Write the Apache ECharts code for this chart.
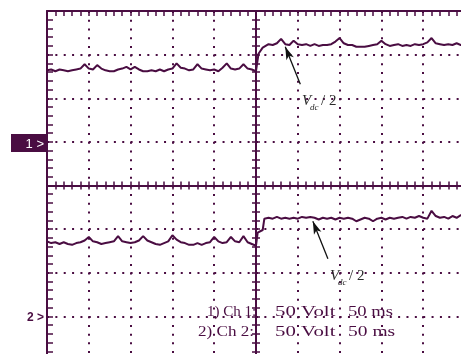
<!DOCTYPE html>
<html><head><meta charset="utf-8">
<script src="https://cdn.jsdelivr.net/npm/echarts@6/dist/echarts.min.js"></script>
<style>html,body{margin:0;padding:0;background:#fff}#c{width:461px;height:354px}</style>
</head><body><div id="c"></div>
<script>
// time in ms (50 ms/div), voltage in V on screen (50 V/div), screen centre = 0
const ch1Time = [-250,-245,-240,-235,-230,-225,-220,-215,-210,-205,-200,-195,-190,-185,-180,-175,-170,-165,-160,-155,-150,-145,-140,-135,-130,-125,-120,-115,-110,-105,-100,-95,-90,-85,-80,-75,-70,-65,-60,-55,-50,-45,-40,-35,-30,-25,-20,-15,-10,-5,0,3,8,10,15,20,25,30,35,40,45,50,55,60,65,70,75,80,85,90,95,100,105,110,115,120,125,130,135,140,145,150,155,160,165,170,175,180,185,190,195,200,205,210,215,220,225,230,235,240,245,250];
const ch1Volt = [132,133,131,133,132,131,132,133,134,139,134,133,138,134,132,131,131,133,134,136,133,136,133,131,131,132,131,133,131,133,134,140,135,134,132,133,139,134,133,132,133,131,135,140,134,133,134,139,134,133,131,151,158,159,162,161,163,168,162,161,166,162,161,162,160,162,160,161,161,162,165,169,163,161,161,159,159,159,160,161,162,166,162,160,161,162,160,161,160,162,161,162,164,169,163,162,161,162,161,163,161,162];
const ch2Time = [-250,-245,-240,-235,-230,-225,-220,-215,-210,-205,-200,-195,-190,-185,-180,-175,-170,-165,-160,-155,-150,-145,-140,-135,-130,-125,-120,-115,-110,-105,-100,-95,-90,-85,-80,-75,-70,-65,-60,-55,-50,-45,-40,-35,-30,-25,-20,-15,-10,-5,0,2,8,10,15,20,25,30,35,40,45,50,55,60,65,70,75,80,85,90,95,100,105,110,115,120,125,130,135,140,145,150,155,160,165,170,175,180,185,190,195,200,205,210,215,220,225,230,235,240,245,250];
const ch2Volt = [-64,-66,-65,-67,-65,-67,-68,-66,-65,-63,-59,-64,-65,-67,-66,-65,-64,-58,-64,-65,-66,-65,-63,-58,-63,-65,-67,-68,-66,-64,-57,-62,-65,-66,-68,-68,-66,-68,-66,-65,-59,-64,-66,-65,-59,-64,-65,-58,-65,-67,-69,-54,-51,-38,-37,-38,-36,-38,-37,-38,-37,-38,-36,-37,-36,-37,-39,-37,-38,-37,-39,-37,-38,-37,-38,-41,-39,-37,-38,-41,-38,-37,-39,-37,-38,-37,-36,-38,-36,-37,-35,-37,-38,-29,-35,-37,-36,-38,-35,-37,-34,-36];
// annotation arrows (tail -> head) in data units
const arrow1 = [[53, 116], [35, 159]];
const arrow2 = [[86, -84], [68, -41]];
const chLabels = ['1) Ch 1:', '2) Ch 2:'];
const scaleLabels = ['50 Volt', '50 ms'];

const C = '#4a0d42';
const chart = echarts.init(document.getElementById('c'), null, {renderer: 'canvas'});

function xAx(pos, onZero, inside, len, split) {
  return {
    type: 'value', position: pos, min: -250, max: 250, interval: 50,
    axisLine: {show: true, onZero: onZero, onZeroAxisIndex: 0, lineStyle: {color: C, width: 2}},
    axisTick: {show: true, inside: inside, length: len, lineStyle: {color: C, width: 1.5}},
    minorTick: {show: true, splitNumber: 5, length: len, lineStyle: {color: C, width: 1.5}},
    axisLabel: {show: false},
    splitLine: {show: split, lineStyle: {color: C, width: 2, type: [2, 6.72]}}
  };
}
function yAx(pos, onZero, inside, len, split) {
  return {
    type: 'value', position: pos, min: -200, max: 200, interval: 50,
    axisLine: {show: true, onZero: onZero, onZeroAxisIndex: 0, lineStyle: {color: C, width: 2}},
    axisTick: {show: true, inside: inside, length: len, lineStyle: {color: C, width: 1.5}},
    minorTick: {show: true, splitNumber: 5, length: len, lineStyle: {color: C, width: 1.5}},
    axisLabel: {show: false},
    splitLine: {show: split, lineStyle: {color: C, width: 2, type: [2, 6.36]}}
  };
}
function arrowLine(a) {
  return [{coord: a[0], symbol: 'none'}, {coord: a[1], symbol: 'arrow', symbolSize: [6, 13]}];
}
const txtFont = '15px "Liberation Serif"';
const option = {
  animation: false,
  backgroundColor: '#fff',
  grid: {left: 47, top: 11, width: 418, height: 349, containLabel: false, outerBoundsMode: 'none'},
  xAxis: [xAx('top', false, true, 5, true), xAx('bottom', true, false, 4, false), xAx('bottom', true, true, 4, false)],
  yAxis: [yAx('left', false, true, 6, true), yAx('left', true, false, 4, false), yAx('left', true, true, 4, false)],
  series: [
    {type: 'line', xAxisIndex: 0, yAxisIndex: 0, showSymbol: false, silent: true,
     data: ch1Time.map((t, i) => [t, ch1Volt[i]]),
     lineStyle: {color: C, width: 2},
     markLine: {silent: true, animation: false, label: {show: false},
       lineStyle: {color: '#111', width: 1.3, type: 'solid'}, itemStyle: {color: '#111'},
       data: [arrowLine(arrow1), arrowLine(arrow2)]}},
    {type: 'line', xAxisIndex: 0, yAxisIndex: 0, showSymbol: false, silent: true,
     data: ch2Time.map((t, i) => [t, ch2Volt[i]]),
     lineStyle: {color: C, width: 2}}
  ],
  graphic: [
    {type: 'rect', shape: {x: 11, y: 134, width: 35, height: 18}, style: {fill: C}, z: 100},
    {type: 'text', x: 44, y: 144, z: 101, style: {text: '1 >', fill: '#fff', align: 'right', verticalAlign: 'middle', font: '13px "Liberation Sans"'}},
    {type: 'text', x: 44, y: 318, z: 101, style: {text: '2 >', fill: C, align: 'right', verticalAlign: 'middle', font: 'bold 12px "Liberation Sans"'}},
    // V_dc / 2 labels
    {type: 'text', x: 302, y: 101, z: 101, style: {text: 'V', fill: '#2a2a2a', verticalAlign: 'middle', font: 'italic 15px "Liberation Serif"'}},
    {type: 'text', x: 310, y: 108, z: 101, style: {text: 'dc', fill: '#2a2a2a', verticalAlign: 'middle', font: 'italic 9px "Liberation Serif"'}},
    {type: 'text', x: 321, y: 101, z: 101, style: {text: '/ 2', fill: '#2a2a2a', verticalAlign: 'middle', font: '15px "Liberation Serif"'}},
    {type: 'text', x: 330, y: 276, z: 101, style: {text: 'V', fill: '#2a2a2a', verticalAlign: 'middle', font: 'italic 15px "Liberation Serif"'}},
    {type: 'text', x: 338, y: 283, z: 101, style: {text: 'dc', fill: '#2a2a2a', verticalAlign: 'middle', font: 'italic 9px "Liberation Serif"'}},
    {type: 'text', x: 349, y: 276, z: 101, style: {text: '/ 2', fill: '#2a2a2a', verticalAlign: 'middle', font: '15px "Liberation Serif"'}},
    // channel settings
    {type: 'text', x: 207, y: 312, z: 101, scaleX: 1.0, style: {text: chLabels[0], fill: C, verticalAlign: 'middle', font: txtFont}},
    {type: 'text', x: 275, y: 312, z: 101, scaleX: 1.39, style: {text: scaleLabels[0], fill: C, verticalAlign: 'middle', font: txtFont}},
    {type: 'text', x: 348, y: 312, z: 101, scaleX: 1.24, style: {text: scaleLabels[1], fill: C, verticalAlign: 'middle', font: txtFont}},
    {type: 'text', x: 198, y: 332, z: 101, scaleX: 1.14, style: {text: chLabels[1], fill: C, verticalAlign: 'middle', font: txtFont}},
    {type: 'text', x: 275, y: 332, z: 101, scaleX: 1.39, style: {text: scaleLabels[0], fill: C, verticalAlign: 'middle', font: txtFont}},
    {type: 'text', x: 348, y: 332, z: 101, scaleX: 1.3, style: {text: scaleLabels[1], fill: C, verticalAlign: 'middle', font: txtFont}}
  ]
};
chart.setOption(option);
</script>
</body></html>
